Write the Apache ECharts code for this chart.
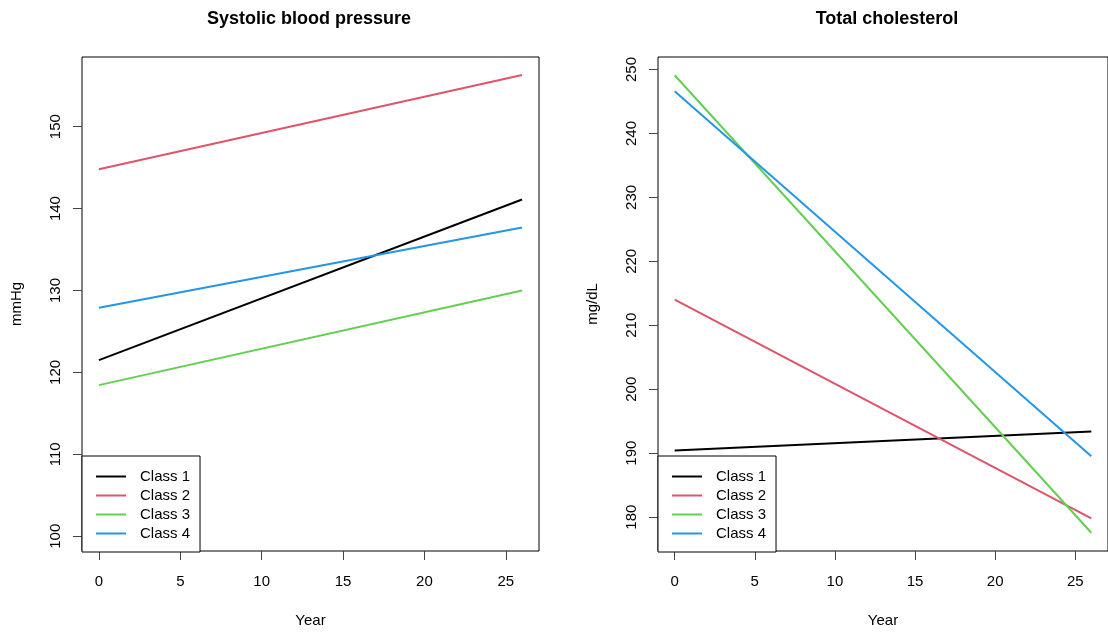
<!DOCTYPE html>
<html>
<head>
<meta charset="utf-8">
<script src="https://cdn.jsdelivr.net/npm/echarts@6/dist/echarts.min.js"></script>
<style>
  html, body { margin: 0; padding: 0; background: #fff; }
  #chart { width: 1108px; height: 633px; }
</style>
</head>
<body>
<div id="chart"></div>
<script>
// fitted class trajectories, start (year 0) and end (year 26)
const years = [0, 26];
const classNames = ['Class 1', 'Class 2', 'Class 3', 'Class 4'];
const classColors = ['#000000', '#DF536B', '#61D04F', '#2297E6'];
const sbpValues = [
  [121.5, 141.1],
  [144.8, 156.3],
  [118.45, 130.0],
  [127.9, 137.7]
];
const cholValues = [
  [190.4, 193.4],
  [214.0, 179.8],
  [249.1, 177.55],
  [246.6, 189.5]
];
const xTicks = [0, 5, 10, 15, 20, 25];
const sbpTicks = [100, 110, 120, 130, 140, 150];
const cholTicks = [180, 190, 200, 210, 220, 230, 240, 250];

const font = 'Liberation Sans, Arial, sans-serif';
const chart = echarts.init(document.getElementById('chart'));

function xAxis(idx) {
  return {
    type: 'value', gridIndex: idx, min: -1.04, max: 27.04,
    name: 'Year', nameLocation: 'middle', nameGap: 62,
    nameTextStyle: { fontFamily: font, fontSize: 15, color: '#000' },
    axisLine: { show: false, onZero: false },
    splitLine: { show: false },
    axisTick: { show: true, length: 9, customValues: xTicks, lineStyle: { color: '#444' } },
    axisLabel: { customValues: xTicks, margin: 23, fontFamily: font, fontSize: 15, color: '#000' }
  };
}
function yAxis(idx, min, max, ticks, name) {
  return {
    type: 'value', gridIndex: idx, min: min, max: max,
    name: name, nameLocation: 'middle', nameGap: 58, nameRotate: 90,
    nameTextStyle: { fontFamily: font, fontSize: 15, color: '#000' },
    axisLine: { show: false, onZero: false },
    splitLine: { show: false },
    axisTick: { show: true, length: 9, customValues: ticks, lineStyle: { color: '#444' } },
    axisLabel: { customValues: ticks, rotate: 90, margin: 19, fontFamily: font, fontSize: 15, color: '#000' }
  };
}
function legend(left) {
  return {
    left: left, top: 456, orient: 'vertical',
    data: classNames,
    icon: 'rect', itemWidth: 30, itemHeight: 2, itemGap: 4,
    padding: [13, 10, 11, 14],
    borderColor: '#000', borderWidth: 1, borderRadius: 0,
    backgroundColor: '#fff',
    selectedMode: false,
    textStyle: { fontFamily: font, fontSize: 15, lineHeight: 15, color: '#000', padding: [0, 0, 0, 9] }
  };
}

const series = [];
[sbpValues, cholValues].forEach((vals, g) => {
  vals.forEach((v, i) => {
    series.push({
      name: classNames[i], type: 'line',
      xAxisIndex: g, yAxisIndex: g,
      data: years.map((y, k) => [y, v[k]]),
      symbol: 'none', silent: true,
      lineStyle: { width: 2, color: classColors[i] },
      itemStyle: { color: classColors[i] }
    });
  });
});

chart.setOption({
  animation: false,
  title: [
    { text: 'Systolic blood pressure', left: 304, top: 5, textAlign: 'center',
      textStyle: { fontFamily: font, fontSize: 18, fontWeight: 'bold', color: '#000' } },
    { text: 'Total cholesterol', left: 882, top: 5, textAlign: 'center',
      textStyle: { fontFamily: font, fontSize: 18, fontWeight: 'bold', color: '#000' } }
  ],
  legend: [legend(82), legend(658)],
  grid: [
    { left: 82, top: 57, width: 457, height: 495, show: true, borderColor: '#000', borderWidth: 1 },
    { left: 658, top: 57, width: 457, height: 495, show: true, borderColor: '#000', borderWidth: 1 }
  ],
  xAxis: [xAxis(0), xAxis(1)],
  yAxis: [
    yAxis(0, 98.2, 158.5, sbpTicks, 'mmHg'),
    yAxis(1, 174.7, 251.96, cholTicks, 'mg/dL')
  ],
  series: series
});
</script>
</body>
</html>
